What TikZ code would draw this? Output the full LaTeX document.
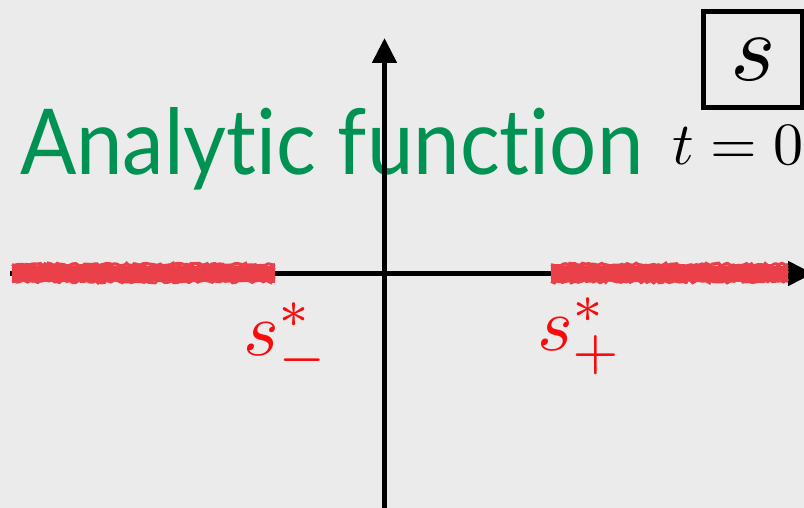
\documentclass[tikz,border=0pt]{standalone}
\usepackage{fontspec}
\usepackage{graphicx}
\newfontfamily\titlefont[Ligatures=NoCommon]{Lato}
\usetikzlibrary{arrows.meta,decorations.pathmorphing}
\definecolor{bg}{RGB}{235,235,235}
\definecolor{titlegreen}{RGB}{0,146,82}
\definecolor{cutred}{RGB}{233,64,74}
\definecolor{labred}{RGB}{250,10,10}
\tikzset{
  axis/.style={line width=5pt, -{Triangle[width=24pt,length=25pt]}},
  cutline/.style={draw=cutred, line width=3pt, decorate,
    decoration={random steps, segment length=2.5pt, amplitude=1.4pt}},
  cutcore/.style={draw=cutred, line width=15pt},
  lab/.style={text=labred, inner sep=0pt, anchor=base west},
}
\begin{document}
\begin{tikzpicture}[x=1pt,y=-1pt]
\useasboundingbox (0,0) rectangle (804,508);
\clip (0,0) rectangle (804,508);
\fill[bg] (0,0) rectangle (804,508);
\pgfmathsetmacro{\dummy}{0}
\pgfmathsetseed{7}
% title
\node[anchor=base west, inner sep=0pt, text=titlegreen] (title) at (20,175)
  {\resizebox{623pt}{\height}{\fontsize{91}{100}\titlefont Analyt\kern0pt ic funct\kern0pt ion}};
% t = 0
\node[anchor=base west, inner sep=0pt] (tzero) at (672,165)
  {\scalebox{6}{$t=0$}};
% s box
\node[draw, line width=5pt, minimum width=98.5pt, minimum height=96pt, inner sep=0pt]
  (sbox) at (752.75,59.5) {\scalebox{9.7}{$s$}};
% axes
\coordinate (ybot) at (384.5,515);
\coordinate (ytop) at (384.5,38);
\coordinate (xleft) at (10,273.5);
\coordinate (xright) at (813,273.5);
\draw[axis] (ybot) -- (ytop);
\draw[axis] (xleft) -- (xright);
% branch cuts
\coordinate (la) at (12,273);
\coordinate (lb) at (275,273);
\coordinate (ra) at (551,273);
\coordinate (rb) at (788,273);
\draw[cutcore] (la) -- (lb);
\draw[cutcore] (ra) -- (rb);
\foreach \dy in {-8.5,-6,-3,0,3,6,8.5}{
  \draw[cutline] ([yshift=\dy pt]la) -- ([yshift=\dy pt]lb);
  \draw[cutline] ([yshift=\dy pt]ra) -- ([yshift=\dy pt]rb);
}
% labels
\node[lab] (sminus) at (243,355) {\scalebox{7.6}{$s^*_-$}};
\node[lab] (splus) at (537,350) {\scalebox{7.6}{$s^*_+$}};
\end{tikzpicture}
\end{document}
